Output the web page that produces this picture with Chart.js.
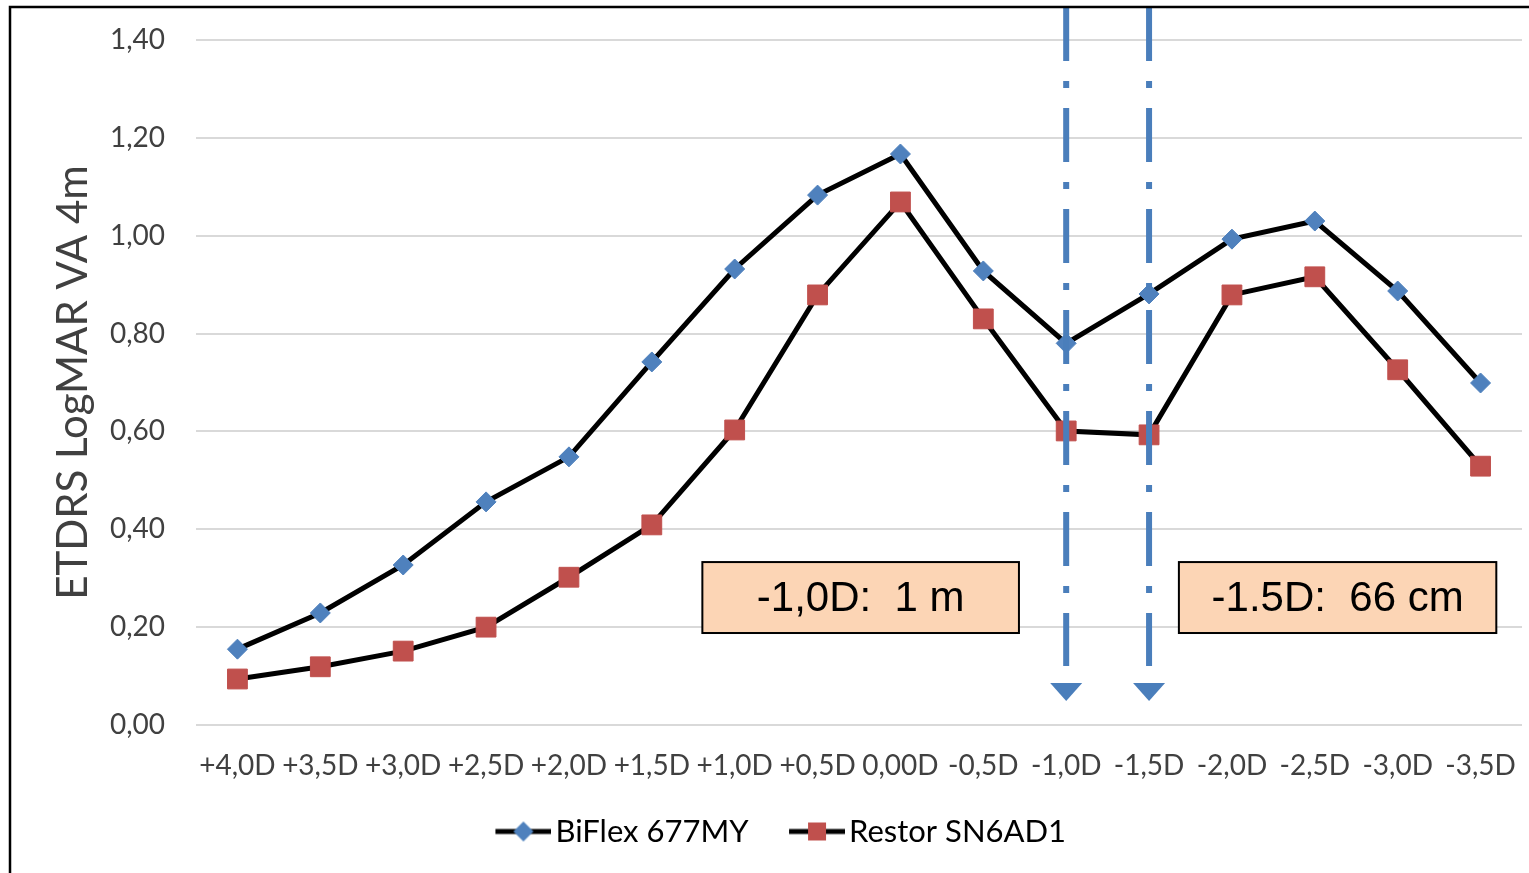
<!DOCTYPE html>
<html>
<head>
<meta charset="utf-8">
<script src="https://cdn.jsdelivr.net/npm/chart.js@4.4.1/dist/chart.umd.min.js"></script>
<style>
html, body { margin: 0; padding: 0; background: #fff; }
#wrap { position: relative; width: 1529px; height: 873px; }
</style>
</head>
<body>
<div id="wrap"><canvas id="c" width="1529" height="873"></canvas></div>
<script>
// categories (defocus) and values
const labels = ['+4,0D', '+3,5D', '+3,0D', '+2,5D', '+2,0D', '+1,5D', '+1,0D', '+0,5D',
                '0,00D', '-0,5D', '-1,0D', '-1,5D', '-2,0D', '-2,5D', '-3,0D', '-3,5D'];
const biflex = [0.155, 0.229, 0.327, 0.456, 0.548, 0.742, 0.932, 1.083,
                1.167, 0.928, 0.780, 0.881, 0.993, 1.030, 0.887, 0.699];
const restor = [0.094, 0.119, 0.151, 0.200, 0.302, 0.409, 0.603, 0.879,
                1.069, 0.830, 0.601, 0.593, 0.879, 0.916, 0.726, 0.529];
const yMin = 0, yMax = 1.4, yStep = 0.2;

// reading-distance markers and their labels
const markerCats = ['-1,0D', '-1,5D'];
const notes = [
    { text: '-1,0D:  1 m',  x0: 5.61, x1: 9.43, y0: 0.188, y1: 0.333 },
    { text: '-1.5D:  66 cm', x0: 11.36, x1: 15.19, y0: 0.188, y1: 0.333 }
];

const BLUE = '#4f81bd', RED = '#c0504d', MARK = '#4a7ebb';
const FONT = 'Lato, "Open Sans", sans-serif';

// legend icon: line with marker; transparent margin on the left widens the gap between items
function legendIcon(shape, color) {
    const m = 19;
    const cv = document.createElement('canvas');
    cv.width = 56 + m; cv.height = 24;
    const g = cv.getContext('2d');
    g.strokeStyle = '#000';
    g.lineWidth = 5;
    g.beginPath(); g.moveTo(m, 12); g.lineTo(m + 56, 12); g.stroke();
    g.fillStyle = color;
    g.beginPath();
    const c = m + 28;
    if (shape === 'diamond') {
        g.moveTo(c, 2); g.lineTo(c + 10, 12); g.lineTo(c, 22); g.lineTo(c - 10, 12);
    } else {
        g.rect(c - 9, 3, 18, 18);
    }
    g.closePath(); g.fill();
    return cv;
}
const icons = [legendIcon('diamond', BLUE), legendIcon('square', RED)];

const extras = {
    id: 'extras',
    afterDatasetsDraw(chart) {
        const { ctx, scales: { x, y } } = chart;
        ctx.save();
        // dash-dot reading lines with arrow heads
        markerCats.forEach(cat => {
            const px = x.getPixelForValue(labels.indexOf(cat));
            ctx.strokeStyle = MARK;
            ctx.lineWidth = 6;
            ctx.setLineDash([54, 20, 7, 20]);
            ctx.beginPath();
            ctx.moveTo(px, 7);
            ctx.lineTo(px, 666);
            ctx.stroke();
            ctx.setLineDash([]);
            ctx.fillStyle = MARK;
            ctx.beginPath();
            ctx.moveTo(px - 16, 683);
            ctx.lineTo(px + 16, 683);
            ctx.lineTo(px, 701);
            ctx.closePath();
            ctx.fill();
        });
        // note boxes
        notes.forEach(n => {
            const l = x.getPixelForValue(n.x0), r = x.getPixelForValue(n.x1);
            const t = y.getPixelForValue(n.y1), b = y.getPixelForValue(n.y0);
            ctx.fillStyle = '#fcd5b5';
            ctx.fillRect(l, t, r - l, b - t);
            ctx.strokeStyle = '#000';
            ctx.lineWidth = 2;
            ctx.strokeRect(l, t, r - l, b - t);
            ctx.fillStyle = '#000';
            ctx.font = '42px "Liberation Sans", Arial, sans-serif';
            ctx.textAlign = 'center';
            ctx.textBaseline = 'middle';
            ctx.fillText(n.text, (l + r) / 2, (t + b) / 2 + 2);
        });
        ctx.restore();
    },
    afterDraw(chart) {
        const ctx = chart.ctx;
        ctx.save();
        ctx.strokeStyle = '#000';
        ctx.lineWidth = 2.5;
        ctx.beginPath();
        ctx.moveTo(10, 873);
        ctx.lineTo(10, 7);
        ctx.lineTo(1529, 7);
        ctx.stroke();
        ctx.restore();
    }
};

new Chart(document.getElementById('c'), {
    type: 'line',
    data: {
        labels: labels,
        datasets: [
            { label: 'BiFlex 677MY', data: biflex, borderColor: '#000', borderWidth: 5,
              pointStyle: 'rectRot', pointRadius: 10, pointBackgroundColor: BLUE,
              pointBorderColor: BLUE, pointBorderWidth: 1, tension: 0 },
            { label: 'Restor SN6AD1', data: restor, borderColor: '#000', borderWidth: 5,
              pointStyle: 'rect', pointRadius: 14, pointBackgroundColor: RED,
              pointBorderColor: RED, pointBorderWidth: 1, tension: 0 }
        ]
    },
    options: {
        responsive: false,
        animation: false,
        devicePixelRatio: 1,
        // big markers would otherwise add automatic padding on the right
        layout: { autoPadding: false, padding: { left: 32, right: 7, top: 40, bottom: 16 } },
        plugins: {
            tooltip: { enabled: false },
            legend: {
                position: 'bottom',
                labels: {
                    usePointStyle: true,
                    pointStyleWidth: 52,
                    padding: 33,
                    color: '#000',
                    font: { family: FONT, size: 31 },
                    generateLabels: chart => chart.data.datasets.map((ds, i) => ({
                        text: ds.label, pointStyle: icons[i], datasetIndex: i,
                        fontColor: '#000', lineWidth: 0
                    }))
                }
            }
        },
        scales: {
            x: {
                offset: true,
                // invisible tick marks push the labels down instead of tick padding
                grid: { display: true, drawOnChartArea: false, drawTicks: true,
                        tickLength: 24, tickColor: 'rgba(0,0,0,0)' },
                border: { display: false },
                ticks: { color: '#404040', padding: 0, maxRotation: 0, autoSkip: false,
                         font: { family: FONT, size: 28 } },
                afterFit: s => { s.height = 58; s.paddingLeft = 0; s.paddingRight = 0; }
            },
            y: {
                min: yMin, max: yMax,
                grid: { color: '#d9d9d9', lineWidth: 2, drawTicks: false },
                border: { display: false },
                ticks: { stepSize: yStep, color: '#404040', padding: 31,
                         font: { family: FONT, size: 28 },
                         callback: v => v.toFixed(2).replace('.', ',') },
                title: { display: true, text: 'ETDRS LogMAR VA 4m', color: '#404040',
                         font: { family: FONT, size: 42 }, padding: { top: 16, bottom: 0 } },
                afterFit: s => { s.width = 164; s.paddingTop = 0; s.paddingBottom = 0; }
            }
        }
    },
    plugins: [extras]
});
</script>
</body>
</html>
